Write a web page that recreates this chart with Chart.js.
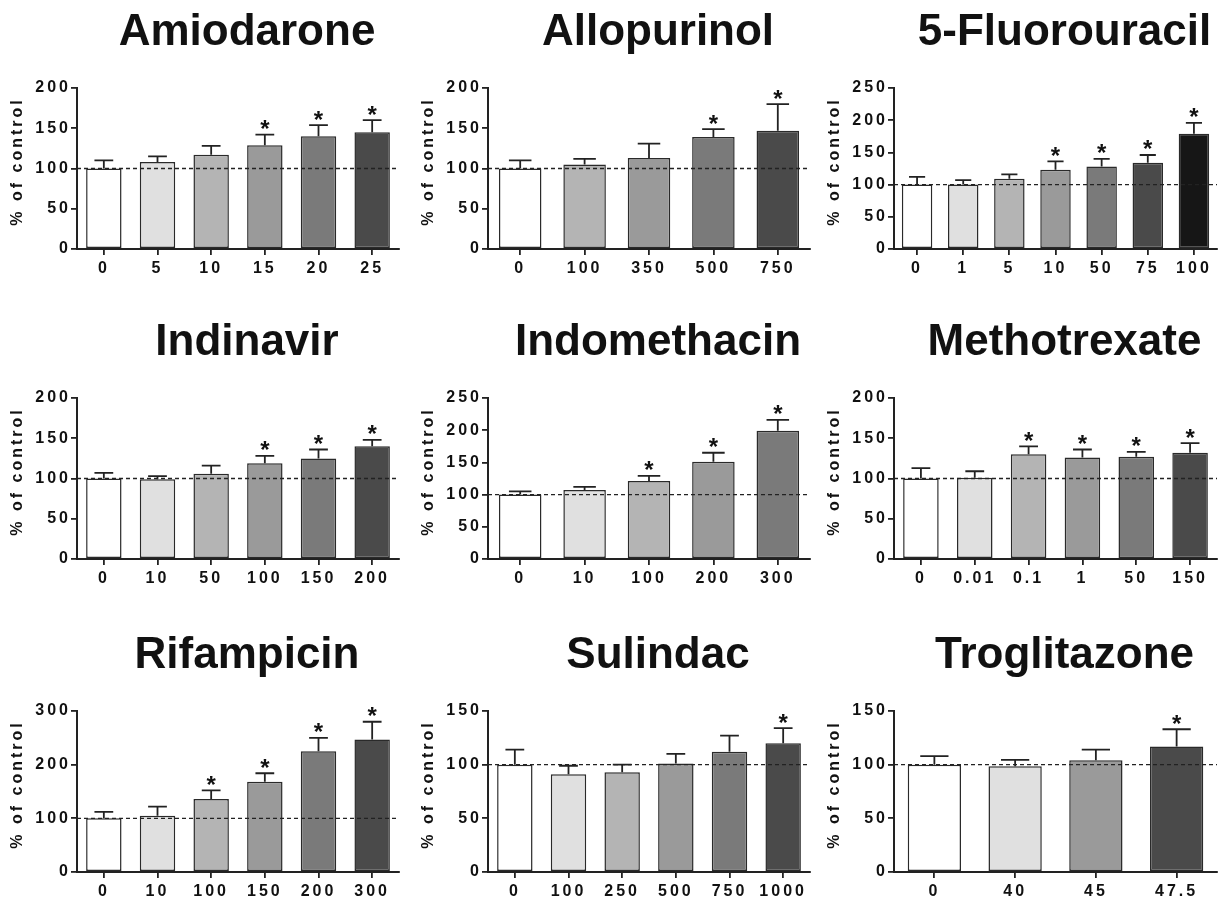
<!DOCTYPE html>
<html>
<head>
<meta charset="utf-8">
<script src="https://cdn.jsdelivr.net/npm/chart.js@4.4.1/dist/chart.umd.min.js"></script>
<style>
body { margin: 0; background: #fff; }
#wrap { position: relative; width: 1232px; height: 900px; }
.panel { position: absolute; }
</style>
</head>
<body>
<div id="wrap"></div>
<script>
// values (% of control, mean + upward SD)
const amioLabels = ['0', '5', '10', '15', '20', '25'];
const amioValues = [100, 108, 117, 129, 140, 145];
const amioErrors = [10, 7, 11, 13, 14, 15];
const amioSig = [0, 0, 0, 1, 1, 1];

const alloLabels = ['0', '100', '350', '500', '750'];
const alloValues = [100, 105, 113, 139, 147];
const alloErrors = [10, 7, 18, 10, 33];
const alloSig = [0, 0, 0, 1, 1];

const fuLabels = ['0', '1', '5', '10', '50', '75', '100'];
const fuValues = [100, 100, 109, 123, 128, 134, 179];
const fuErrors = [12, 7, 7, 13, 12, 12, 17];
const fuSig = [0, 0, 0, 1, 1, 1, 1];

const indiLabels = ['0', '10', '50', '100', '150', '200'];
const indiValues = [100, 99, 106, 119, 125, 140];
const indiErrors = [7, 4, 10, 9, 11, 8];
const indiSig = [0, 0, 0, 1, 1, 1];

const indoLabels = ['0', '10', '100', '200', '300'];
const indoValues = [100, 107, 121, 151, 199];
const indoErrors = [5, 5, 8, 14, 17];
const indoSig = [0, 0, 1, 1, 1];

const mtxLabels = ['0', '0.01', '0.1', '1', '50', '150'];
const mtxValues = [100, 101, 130, 126, 127, 132];
const mtxErrors = [13, 8, 10, 10, 6, 12];
const mtxSig = [0, 0, 1, 1, 1, 1];

const rifLabels = ['0', '10', '100', '150', '200', '300'];
const rifValues = [100, 105, 136, 168, 225, 247];
const rifErrors = [12, 17, 16, 16, 25, 33];
const rifSig = [0, 0, 1, 1, 1, 1];

const sulLabels = ['0', '100', '250', '500', '750', '1000'];
const sulValues = [100, 91, 93, 101, 112, 120];
const sulErrors = [14, 8, 7, 9, 15, 14];
const sulSig = [0, 0, 0, 0, 0, 1];

const troLabels = ['0', '40', '45', '47.5'];
const troValues = [100, 98.5, 104, 117];
const troErrors = [8, 6, 10, 16];
const troSig = [0, 0, 0, 1];

const titles = ['Amiodarone', 'Allopurinol', '5-Fluorouracil',
                'Indinavir', 'Indomethacin', 'Methotrexate',
                'Rifampicin', 'Sulindac', 'Troglitazone'];
const yMax = [200, 200, 250, 200, 250, 200, 300, 150, 150];
const yStep = [50, 50, 50, 50, 50, 50, 100, 50, 50];
const refLine = 100;

// grey shades used for the bars
const W = '#ffffff', G1 = '#e0e0e0', G2 = '#b4b4b4', G3 = '#9a9a9a',
      G4 = '#7a7a7a', G5 = '#4a4a4a', G6 = '#161616';
const shades6 = [W, G1, G2, G3, G4, G5];

const panels = [
  { labels: amioLabels, values: amioValues, errors: amioErrors, sig: amioSig, colors: shades6 },
  { labels: alloLabels, values: alloValues, errors: alloErrors, sig: alloSig, colors: [W, G2, G3, G4, G5] },
  { labels: fuLabels, values: fuValues, errors: fuErrors, sig: fuSig, colors: [W, G1, G2, G3, G4, G5, G6] },
  { labels: indiLabels, values: indiValues, errors: indiErrors, sig: indiSig, colors: shades6 },
  { labels: indoLabels, values: indoValues, errors: indoErrors, sig: indoSig, colors: [W, G1, G2, G3, G4] },
  { labels: mtxLabels, values: mtxValues, errors: mtxErrors, sig: mtxSig, colors: shades6 },
  { labels: rifLabels, values: rifValues, errors: rifErrors, sig: rifSig, colors: shades6 },
  { labels: sulLabels, values: sulValues, errors: sulErrors, sig: sulSig, colors: shades6 },
  { labels: troLabels, values: troValues, errors: troErrors, sig: troSig, colors: [W, G1, G3, G5] }
];

// layout of the 3x3 grid (canvas box + plot edges inside it)
const cols = [
  { x: 0, w: 410, left: 77, right: 399 },
  { x: 410, w: 410, left: 78, right: 400 },
  { x: 820, w: 412, left: 74, right: 397 }
];
const rows = [
  { y: 0, h: 290, top: 88, bottom: 249 },
  { y: 310, h: 290, top: 88, bottom: 249 },
  { y: 620, h: 280, top: 91, bottom: 252 }
];

const FONT = '"Liberation Sans", Arial, sans-serif';
const INK = '#111111';

function makeDecor(p, title) {
  return {
    id: 'decor',
    beforeDraw(chart) {
      chart.ctx.letterSpacing = '3px';
    },
    afterDatasetsDraw(chart) {
      const ctx = chart.ctx, y = chart.scales.y, area = chart.chartArea;
      const meta = chart.getDatasetMeta(0);
      ctx.save();
      ctx.strokeStyle = '#222';
      ctx.lineWidth = 1.8;
      meta.data.forEach((bar, i) => {
        const top = y.getPixelForValue(p.values[i] + p.errors[i]);
        const cap = bar.width * 0.53;
        ctx.beginPath();
        ctx.moveTo(bar.x, bar.y);
        ctx.lineTo(bar.x, top);
        ctx.moveTo(bar.x - cap / 2, top);
        ctx.lineTo(bar.x + cap / 2, top);
        ctx.stroke();
        if (p.sig[i]) {
          ctx.letterSpacing = '0px';
          ctx.fillStyle = INK;
          ctx.font = 'bold 24px ' + FONT;
          ctx.textAlign = 'center';
          ctx.textBaseline = 'alphabetic';
          ctx.fillText('*', bar.x, top + 2.5);
        }
      });
      // dashed control line
      const ref = y.getPixelForValue(refLine);
      ctx.setLineDash([4, 3]);
      ctx.lineWidth = 1.4;
      ctx.beginPath();
      ctx.moveTo(area.left, ref);
      ctx.lineTo(area.right, ref);
      ctx.stroke();
      ctx.restore();
    },
    afterDraw(chart) {
      const ctx = chart.ctx, area = chart.chartArea;
      ctx.save();
      ctx.fillStyle = INK;
      ctx.letterSpacing = '0px';
      ctx.font = 'bold 44px ' + FONT;
      ctx.textAlign = 'center';
      ctx.textBaseline = 'alphabetic';
      ctx.fillText(title, (area.left + area.right) / 2 + 9, area.top - 43);

      ctx.letterSpacing = '3px';
      ctx.font = 'bold 16px ' + FONT;
      ctx.translate(area.left - 59, (area.top + area.bottom) / 2 - 7);
      ctx.rotate(-Math.PI / 2);
      ctx.textBaseline = 'middle';
      ctx.fillText('% of control', 0, 0);
      ctx.restore();
      ctx.letterSpacing = '0px';
    }
  };
}

const wrap = document.getElementById('wrap');

panels.forEach((p, k) => {
  const c = cols[k % 3], r = rows[Math.floor(k / 3)];
  const box = document.createElement('div');
  box.className = 'panel';
  box.style.left = c.x + 'px';
  box.style.top = r.y + 'px';
  const canvas = document.createElement('canvas');
  canvas.width = c.w;
  canvas.height = r.h;
  canvas.style.width = c.w + 'px';
  canvas.style.height = r.h + 'px';
  box.appendChild(canvas);
  wrap.appendChild(box);

  new Chart(canvas, {
    type: 'bar',
    data: {
      labels: p.labels,
      datasets: [{
        data: p.values,
        backgroundColor: p.colors,
        borderColor: '#2a2a2a',
        borderWidth: 1.5,
        borderSkipped: false,
        categoryPercentage: 1,
        barPercentage: 0.66
      }]
    },
    options: {
      responsive: false,
      devicePixelRatio: 1,
      animation: false,
      layout: { padding: { top: r.top, right: c.w - c.right, bottom: 0, left: 0 } },
      plugins: { legend: { display: false }, tooltip: { enabled: false } },
      scales: {
        x: {
          afterFit(s) { s.height = r.h - r.bottom; },
          grid: { display: true, drawOnChartArea: false, offset: false, tickLength: 6, color: '#222', lineWidth: 1.8 },
          border: { display: true, color: '#222', width: 2 },
          ticks: { color: INK, padding: 4, font: { family: FONT, size: 16, weight: 'bold' }, maxRotation: 0, autoSkip: false }
        },
        y: {
          min: 0,
          max: yMax[k],
          afterFit(s) { s.width = c.left; },
          grid: { display: true, drawOnChartArea: false, tickLength: 6, color: '#222', lineWidth: 1.8 },
          border: { display: true, color: '#222', width: 2 },
          ticks: { stepSize: yStep[k], color: INK, padding: 0, font: { family: FONT, size: 16, weight: 'bold' } }
        }
      }
    },
    plugins: [makeDecor(p, titles[k])]
  });
});
</script>
</body>
</html>
